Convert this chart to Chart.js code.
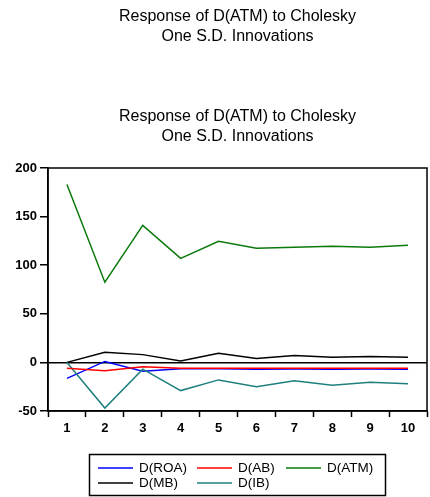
<!DOCTYPE html>
<html>
<head>
<meta charset="utf-8">
<script src="https://cdn.jsdelivr.net/npm/chart.js@4/dist/chart.umd.min.js"></script>
<style>
  html, body { margin: 0; padding: 0; background: #fff; }
  canvas { display: block; }
</style>
</head>
<body>
<canvas id="irf" width="430" height="497"></canvas>
<script>
// Impulse response periods
const periods = ['1', '2', '3', '4', '5', '6', '7', '8', '9', '10'];

// Response of D(ATM) to one S.D. shocks in each variable
const roa = [-16.5, 1, -9, -6.5, -6.5, -7, -6.8, -7, -6.8, -7];
const ab  = [-6, -8.5, -4.5, -6, -6, -6, -6, -6, -6, -6];
const atm = [183, 82.5, 141, 107, 124.5, 117.5, 118.5, 119.5, 118.5, 120.5];
const mb  = [0, 10.5, 8, 1.5, 9.5, 4, 7, 5.2, 6, 5.2];
const ib  = [0, -47, -7, -29, -18, -25, -19, -23.5, -20.5, -22];

// Y axis range and step
const yMin = -50, yMax = 200, yStep = 50;

const titleLines = ['Response of D(ATM) to Cholesky', 'One S.D. Innovations'];
const FONT = '"Liberation Sans", Arial, sans-serif';

// Box around the plotting area
const framePlugin = {
  id: 'frame',
  afterDatasetsDraw(chart) {
    const { ctx, chartArea: a } = chart;
    ctx.save();
    ctx.strokeStyle = '#000';
    ctx.lineWidth = 1.5;
    ctx.strokeRect(a.left, a.top, a.right - a.left, a.bottom - a.top);
    ctx.restore();
  }
};

// Boxed legend laid out as a grid of three columns
const gridLegend = {
  id: 'gridLegend',
  afterDraw(chart) {
    const { ctx } = chart;
    const box = { x: 89.5, y: 454.5, w: 296, h: 41 };
    const cols = [98, 197, 286];
    const rows = [468, 483];
    ctx.save();
    ctx.strokeStyle = '#000';
    ctx.lineWidth = 1.5;
    ctx.strokeRect(box.x, box.y, box.w, box.h);
    ctx.font = '13.5px ' + FONT;
    ctx.textBaseline = 'middle';
    ctx.fillStyle = '#000';
    chart.data.datasets.forEach((ds, i) => {
      const x = cols[i % 3];
      const y = rows[Math.floor(i / 3)];
      ctx.strokeStyle = ds.borderColor;
      ctx.lineWidth = 1.5;
      ctx.beginPath();
      ctx.moveTo(x, y);
      ctx.lineTo(x + 35, y);
      ctx.stroke();
      ctx.fillText(ds.label, x + 41, y + 0.5);
    });
    ctx.restore();
  }
};

const line = (label, data, color, order) => ({
  label, data, order,
  borderColor: color,
  backgroundColor: color,
  borderWidth: 1.5,
  pointRadius: 0,
  tension: 0,
  fill: false
});

new Chart(document.getElementById('irf'), {
  type: 'line',
  data: {
    labels: periods,
    datasets: [
      line('D(ROA)', roa, '#0000ff', 5),
      line('D(AB)', ab, '#ff0000', 1),
      line('D(ATM)', atm, '#0a7a0a', 3),
      line('D(MB)', mb, '#000000', 4),
      line('D(IB)', ib, '#1f7f7f', 2)
    ]
  },
  options: {
    responsive: false,
    animation: false,
    layout: { padding: { left: 0, right: 3, top: 0, bottom: 58 } },
    plugins: {
      legend: { display: false },
      tooltip: { enabled: false },
      title: {
        display: true,
        text: titleLines,
        fullSize: false,
        color: '#000',
        font: { family: FONT, size: 16, weight: 'normal', lineHeight: 1.25 },
        padding: { top: 7, bottom: 0 }
      },
      subtitle: {
        display: true,
        text: titleLines,
        fullSize: false,
        color: '#000',
        font: { family: FONT, size: 16, weight: 'normal', lineHeight: 1.25 },
        padding: { top: 60, bottom: 21 }
      }
    },
    scales: {
      x: {
        type: 'category',
        offset: true,
        afterFit(s) { s.height = 28; },
        grid: {
          offset: true,
          drawOnChartArea: false,
          drawTicks: true,
          tickLength: 6,
          tickColor: '#000',
          tickWidth: 1.5
        },
        border: { display: true, color: '#000', width: 1.5 },
        ticks: {
          color: '#000',
          padding: 4,
          maxRotation: 0,
          font: { family: FONT, size: 13, weight: 'bold' }
        }
      },
      y: {
        min: yMin,
        max: yMax,
        afterFit(s) { s.width = 48; },
        grid: {
          drawOnChartArea: true,
          color: (c) => (c.tick && c.tick.value === 0 ? '#000' : 'rgba(0,0,0,0)'),
          lineWidth: 1.5,
          drawTicks: true,
          tickLength: 8,
          tickColor: '#000',
          tickWidth: 1.5
        },
        border: { display: true, color: '#000', width: 1.5 },
        ticks: {
          stepSize: yStep,
          color: '#000',
          padding: 3,
          font: { family: FONT, size: 13, weight: 'bold' }
        }
      }
    }
  },
  plugins: [framePlugin, gridLegend]
});
</script>
</body>
</html>
